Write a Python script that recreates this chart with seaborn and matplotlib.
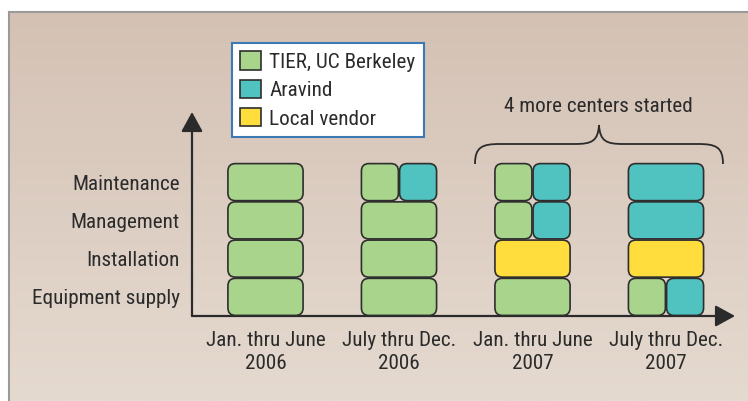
import numpy as np
import pandas as pd
import matplotlib
matplotlib.use("Agg")
import matplotlib.pyplot as plt
import matplotlib.transforms as mtransforms
from matplotlib.patches import FancyBboxPatch, Patch, PathPatch
from matplotlib.path import Path
import seaborn as sns

# ---------------- data ----------------
periods = ["Jan. thru June\n2006", "July thru Dec.\n2006",
           "Jan. thru June\n2007", "July thru Dec.\n2007"]
tasks = ["Equipment supply", "Installation", "Management", "Maintenance"]
providers = ["TIER, UC Berkeley", "Aravind", "Local vendor"]
provider_colors = ["#a8d48c", "#50c2c0", "#ffdd3c"]

# who handles each task in each period (one list per task, one entry per period)
equipment_supply = [["TIER, UC Berkeley"], ["TIER, UC Berkeley"], ["TIER, UC Berkeley"],
                    ["TIER, UC Berkeley", "Aravind"]]
installation = [["TIER, UC Berkeley"], ["TIER, UC Berkeley"], ["Local vendor"], ["Local vendor"]]
management = [["TIER, UC Berkeley"], ["TIER, UC Berkeley"],
              ["TIER, UC Berkeley", "Aravind"], ["Aravind"]]
maintenance = [["TIER, UC Berkeley"], ["TIER, UC Berkeley", "Aravind"],
               ["TIER, UC Berkeley", "Aravind"], ["Aravind"]]
annotation_text = "4 more centers started"

# build a tidy table
rows = []
for t_idx, (task, per_task) in enumerate(zip(tasks, [equipment_supply, installation, management, maintenance])):
    for p_idx, provs in enumerate(per_task):
        n = len(provs)
        for k, prov in enumerate(provs):
            rows.append(dict(period=p_idx, task=t_idx, provider=prov, part=k, nparts=n))
df = pd.DataFrame(rows)

# ---------------- style ----------------
sns.set_theme(style="white")
plt.rcParams["font.family"] = ["Roboto Condensed", "Liberation Sans", "DejaVu Sans"]
palette = dict(zip(providers, sns.color_palette(provider_colors)))
TXT = "#2b2b2b"
FS = 15.2

W, H = 748, 401
fig = plt.figure(figsize=(W / 100, H / 100), dpi=100)
fig.patch.set_facecolor("white")

# background panel with gradient
ax_bg = fig.add_axes([9 / W, 0, 1 - 9 / W, 1 - 12 / H], zorder=0)
grad = np.linspace(0, 1, 256)[:, None]
top = np.array([212, 193, 180]) / 255
bot = np.array([229, 218, 208]) / 255
img = top[None, None, :] * (1 - grad[..., None]) + bot[None, None, :] * grad[..., None]
ax_bg.imshow(img, aspect="auto", extent=[0, 1, 0, 1])
ax_bg.set_xlim(0, 1); ax_bg.set_ylim(0, 1)
ax_bg.set_xticks([]); ax_bg.set_yticks([])
for s in ["right", "bottom"]:
    ax_bg.spines[s].set_visible(False)
for s in ["left", "top"]:
    ax_bg.spines[s].set_visible(True)
    ax_bg.spines[s].set_color("#9a9a9a")
    ax_bg.spines[s].set_linewidth(1.5)

# main axes
x0p, x1p, y0p, y1p = 192, 735, 316, 112
ax = fig.add_axes([x0p / W, (H - y0p) / H, (x1p - x0p) / W, (y0p - y1p) / H], zorder=2)
ax.set_facecolor("none")
colw_px, rowh_px = 133.5, 38.25
cx0 = 265.5
ax.set_xlim((x0p - cx0) / colw_px, (x1p - cx0) / colw_px)
ax.set_ylim(0, (y0p - y1p) / rowh_px)
for s in ax.spines.values():
    s.set_visible(False)

# axis arrows
arrow_kw = dict(arrowstyle="-|>,head_length=1.0,head_width=0.55", lw=1.6, color=TXT,
                shrinkA=0, shrinkB=0)
ax.annotate("", xy=(0, 1), xytext=(0, 0), xycoords="axes fraction", arrowprops=arrow_kw,
            annotation_clip=False)
ax.annotate("", xy=(1, 0), xytext=(0, 0), xycoords="axes fraction", arrowprops=arrow_kw,
            annotation_clip=False)

# boxes
box_w = 0.572
gx = 0.6 / colw_px
gy = 0.6 / rowh_px
aspect = colw_px / rowh_px
r = 7.5 / colw_px
for _, rw in df.iterrows():
    w = box_w / rw.nparts
    left = rw.period - box_w / 2 + rw.part * w
    bottom = rw.task
    p = FancyBboxPatch((left + gx, bottom + gy), w - 2 * gx, 1 - 2 * gy,
                       boxstyle=f"round,pad=0,rounding_size={r}",
                       mutation_aspect=aspect,
                       facecolor=palette[rw.provider], edgecolor="#2e2e2e", lw=1.2,
                       zorder=3)
    ax.add_patch(p)

# ticks
ax.set_xticks(range(len(periods)))
ax.set_xticklabels(periods, fontsize=FS, color=TXT, linespacing=1.3)
ax.set_yticks(np.arange(len(tasks)) + 0.5)
ax.set_yticklabels(tasks, fontsize=FS, color=TXT)
ax.tick_params(axis="x", length=0, pad=10.5)
ax.tick_params(axis="y", length=0, pad=9)

# brace (pixel coords -> figure)
px = mtransforms.Affine2D().scale(1 / W, -1 / H).translate(0, 1) + fig.transFigure
verts = [(475, 164), (475, 147), (482, 144), (500, 144),
         (575, 144),
         (592, 144), (598, 141), (599, 125),
         (600, 141), (606, 144), (623, 144),
         (698, 144),
         (716, 144), (723, 147), (723, 164)]
codes = [Path.MOVETO, Path.CURVE4, Path.CURVE4, Path.CURVE4,
         Path.LINETO,
         Path.CURVE4, Path.CURVE4, Path.CURVE4,
         Path.CURVE4, Path.CURVE4, Path.CURVE4,
         Path.LINETO,
         Path.CURVE4, Path.CURVE4, Path.CURVE4]
fig.add_artist(PathPatch(Path(verts, codes), transform=px, fill=False, lw=1.3,
                         edgecolor=TXT, zorder=5))
fig.text(598 / W, 1 - 107 / H, annotation_text, ha="center", va="center",
         fontsize=FS, color=TXT)

# legend
handles = [Patch(facecolor=palette[p], edgecolor="#2e2e2e", lw=1.2, label=p) for p in providers]
leg = fig.legend(handles=handles, loc="upper left", bbox_to_anchor=(232 / W, 1 - 43 / H),
                 bbox_transform=fig.transFigure, borderaxespad=0, fontsize=FS,
                 frameon=True, fancybox=False, handlelength=0.95, handleheight=0.95,
                 handletextpad=0.42, labelspacing=0.38, borderpad=0.4)
leg.get_frame().set_edgecolor("#3d7ab5")
leg.get_frame().set_linewidth(1.5)
leg.get_frame().set_facecolor("white")
leg.get_frame().set_alpha(1)
leg.set_zorder(6)
for t in leg.get_texts():
    t.set_color(TXT)

fig.savefig("out.png", dpi=100)
